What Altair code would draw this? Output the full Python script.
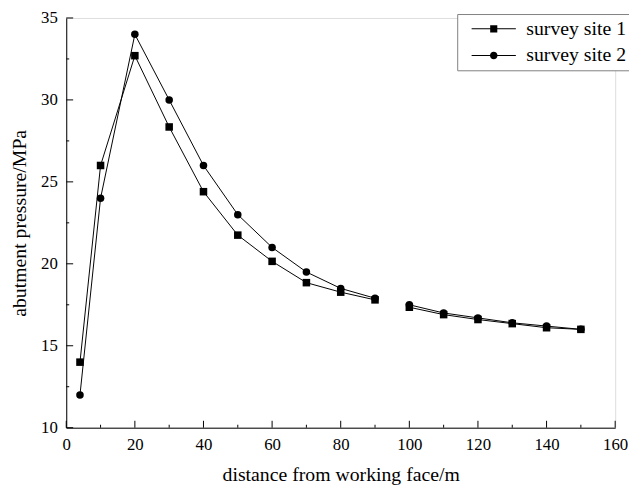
import altair as alt
import pandas as pd

# ---- data ----
distance = [4, 10, 20, 30, 40, 50, 60, 70, 80, 90, 100, 110, 120, 130, 140, 150]
site1 = [14.0, 26.0, 32.7, 28.35, 24.4, 21.75, 20.15, 18.85, 18.27, 17.8, 17.35, 16.9, 16.6, 16.35, 16.1, 16.0]
site2 = [12.0, 24.0, 34.0, 30.0, 26.0, 23.0, 21.0, 19.5, 18.5, 17.9, 17.5, 17.0, 16.7, 16.4, 16.2, 16.0]
segment = [1] * 10 + [2] * 6          # the lines break between 90 m and 100 m
series_names = ["survey site 1", "survey site 2"]

x_major = [0, 20, 40, 60, 80, 100, 120, 140, 160]
x_minor = [10, 30, 50, 70, 90, 110, 130, 150]
y_major = [10, 15, 20, 25, 30, 35]
y_minor = [12.5, 17.5, 22.5, 27.5, 32.5]

rows = []
for name, vals in zip(series_names, [site1, site2]):
    for d, v, s in zip(distance, vals, segment):
        rows.append({"site": name, "distance": d, "pressure": v, "seg": f"{name}-{s}"})
df = pd.DataFrame(rows)

FONT = "Liberation Serif"
W, H = 556, 415

xscale = alt.Scale(domain=[0, 160], nice=False, zero=False)
yscale = alt.Scale(domain=[10, 35], nice=False, zero=False)

xaxis = alt.Axis(title="distance from working face/m", values=x_major, ticks=False, grid=False,
                 domainColor="black", domainWidth=1, labelColor="black", labelFont=FONT,
                 labelFontSize=17, labelPadding=9, labelFlush=False, titleFont=FONT,
                 titleFontSize=20, titleFontWeight="normal", titleColor="black", titlePadding=12)
yaxis = alt.Axis(title="abutment pressure/MPa", values=y_major, ticks=False, grid=False,
                 domainColor="black", domainWidth=1, labelColor="black", labelFont=FONT,
                 labelFontSize=17, labelPadding=9, labelFlush=False, titleFont=FONT,
                 titleFontSize=20, titleFontWeight="normal", titleColor="black", titlePadding=11)

X = alt.X("distance:Q", scale=xscale, axis=xaxis)
Y = alt.Y("pressure:Q", scale=yscale, axis=yaxis)

# legend glyphs: a thin filled bar on each side of the marker
bar = "M-5.6,-0.13H-0.8V0.13H-5.6Z M0.8,-0.13H5.6V0.13H0.8Z "
sq = bar + "M-0.9,-0.9H0.9V0.9H-0.9Z"
ci = bar + "M-0.95,0A0.95,0.95,0,1,1,0.95,0A0.95,0.95,0,1,1,-0.95,0Z"

legend = alt.Legend(
    title=None, orient="none", legendX=396, legendY=-4,
    strokeColor="#808080", fillColor="white", padding=5, cornerRadius=0,
    labelFont=FONT, labelFontSize=20, labelColor="black", labelOffset=23,
    rowPadding=7, symbolOffset=22, symbolSize=64, symbolOpacity=1,
    symbolFillColor="black", symbolStrokeColor="black", symbolStrokeWidth=0,
)

base = alt.Chart(df)
lines = base.mark_line(color="black", strokeWidth=1).encode(
    x=X, y=Y, detail="seg:N", order="distance:Q")
points = base.mark_point(filled=True, color="black", size=58, opacity=1).encode(
    x=X, y=Y,
    shape=alt.Shape("site:N", scale=alt.Scale(domain=series_names, range=["square", "circle"]),
                    legend=None))
legend_layer = base.mark_point(filled=True, color="black", size=64, opacity=0).encode(
    x=X, y=Y,
    shape=alt.Shape("site:N", scale=alt.Scale(domain=series_names, range=[sq, ci]),
                    legend=legend))

xmaj = alt.Chart(pd.DataFrame({"distance": x_major})).mark_rule(color="black", strokeWidth=1).encode(
    x=X, y=alt.value(H), y2=alt.value(H - 7))
xmin = alt.Chart(pd.DataFrame({"distance": x_minor})).mark_rule(color="black", strokeWidth=1).encode(
    x=X, y=alt.value(H), y2=alt.value(H - 3))
ymaj = alt.Chart(pd.DataFrame({"pressure": y_major})).mark_rule(color="black", strokeWidth=1).encode(
    y=Y, x=alt.value(0), x2=alt.value(7))
ymin = alt.Chart(pd.DataFrame({"pressure": y_minor})).mark_rule(color="black", strokeWidth=1).encode(
    y=Y, x=alt.value(0), x2=alt.value(3))

chart = alt.layer(lines, points, legend_layer, xmaj, xmin, ymaj, ymin).resolve_scale(
    shape="independent"
).properties(
    width=W, height=H,
    autosize=alt.AutoSizeParams(type="none"),
    padding={"left": 59, "top": 7, "right": 14, "bottom": 60},
).configure_view(stroke=None).configure(background="white")

chart.save("out.html", embed_options={"renderer": "svg", "actions": False})
